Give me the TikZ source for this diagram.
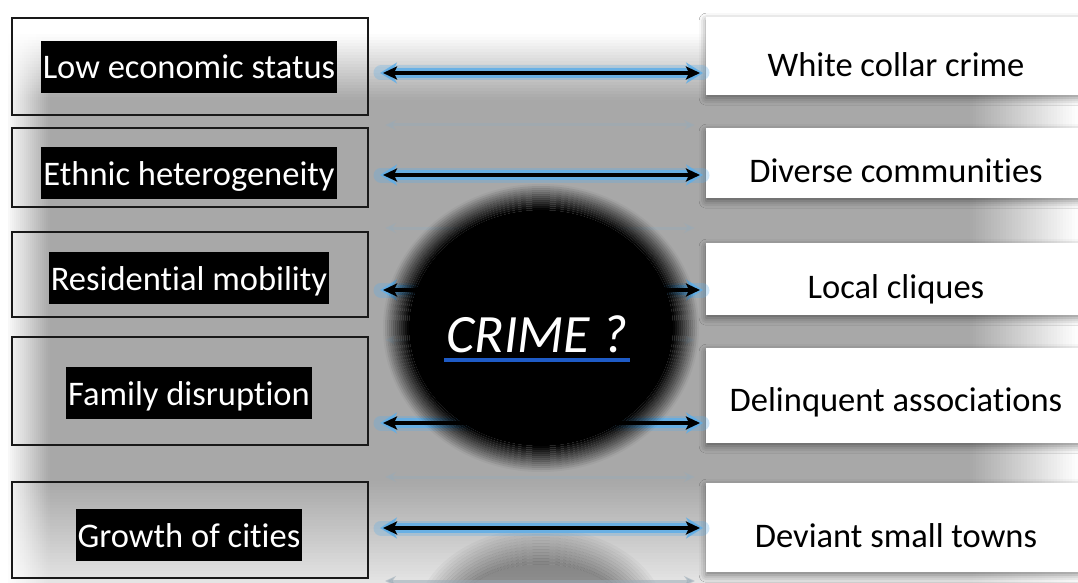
\documentclass[tikz,border=0pt]{standalone}
\usepackage{fontspec}
\setmainfont{Carlito}[Ligatures=NoCommon]
\usetikzlibrary{shadows.blur,arrows.meta,calc}

\definecolor{bggray}{HTML}{A8A8A8}
\definecolor{glow}{HTML}{5FAEE8}
\definecolor{ghost}{HTML}{9AAAB6}
\definecolor{uline}{HTML}{1E5BC6}

\newcommand\labelfont{\fontsize{34.5pt}{40pt}\selectfont}
\newcommand\crimefont{\fontsize{54pt}{60pt}\selectfont\itshape}

\begin{document}
\begin{tikzpicture}[x=1pt,y=-1pt,
  lbox/.style={draw=black!90, line width=2.4pt, minimum width=356pt, inner sep=0pt},
  lab/.style={fill=black, text=white, font=\labelfont, inner xsep=2pt, inner ysep=5pt,
    text height=33pt, text depth=9pt, anchor=base},
  rbox/.style={fill=white, draw=none, minimum width=380pt, inner sep=0pt, anchor=north west,
    blur shadow={shadow xshift=0pt, shadow yshift=-3pt, shadow blur radius=7pt, shadow opacity=45}},
  rtext/.style={font=\labelfont, text=black, inner sep=0pt, anchor=base},
  glowwide/.style={draw=glow, line width=15pt, opacity=0.3, line cap=round,
    shorten <=-2pt, shorten >=-2pt},
  glowcore/.style={draw=glow, line width=10pt, opacity=0.85, line cap=round,
    {Stealth[length=17pt,width=21pt]}-{Stealth[length=17pt,width=21pt]},
    shorten <=-3pt, shorten >=-3pt},
  link/.style={draw=black, line width=3.6pt,
    {Stealth[length=14pt,width=13pt,inset=3pt]}-{Stealth[length=14pt,width=13pt,inset=3pt]}},
  ghostlink/.style={draw=ghost, line width=3pt, opacity=0.55,
    {Stealth[length=11pt,width=10pt]}-{Stealth[length=11pt,width=10pt]}},
]
\useasboundingbox (0,0) rectangle (1078,583);

% backdrop with light vignettes, built from thin strips
\fill[bggray] (0,0) rectangle (1078,583);
\fill[white] (0,0) rectangle (1078,34);
\foreach \k in {0,...,21}{
  \pgfmathsetmacro\op{1-(\k+0.5)/22}
  \fill[white, fill opacity=\op] (0,34+3*\k) rectangle (1078,37+3*\k);
}
\fill[white] (0,0) rectangle (8,583);
\foreach \k in {0,...,20}{
  \pgfmathsetmacro\op{0.95*(1-(\k+0.5)/21)}
  \fill[white, fill opacity=\op] (8+2*\k,0) rectangle (10+2*\k,583);
}
\foreach \k in {0,...,33}{
  \pgfmathsetmacro\op{0.7*(\k+0.5)/34}
  \fill[white, fill opacity=\op] (0,481+3*\k) rectangle (1078,484+3*\k);
}
\foreach \k in {0,...,35}{
  \pgfmathsetmacro\op{(\k+0.5)/36}
  \fill[white, fill opacity=\op] (970+3*\k,0) rectangle (973+3*\k,583);
}

% soft reflection of the sphere
\coordinate (refl) at (541,622);
\foreach \k in {0,...,11}{
  \pgfmathsetmacro\op{0.38*(1-\k/12)}
  \fill[black, fill opacity=\op, even odd rule]
    (refl) ellipse [x radius={90+3*\k}, y radius={58+3*\k}]
    (refl) ellipse [x radius={93+3*\k}, y radius={61+3*\k}];
}
\fill[black, fill opacity=0.38] (refl) ellipse [x radius=90, y radius=58];

% faint mirrored arrows
\foreach \i/\y in {1/125,2/228,3/340,4/477,5/581}{
  \coordinate (g\i w) at (385,\y);
  \coordinate (g\i e) at (695,\y);
  \draw[ghostlink] (g\i w) -- (g\i e);
}

% left column: factors
\node[lbox, minimum height=97pt]  (B1) at (190,66.5) {};
\node[lbox, minimum height=79pt]  (B2) at (190,167.5) {};
\node[lbox, minimum height=85pt]  (B3) at (190,274.5) {};
\node[lbox, minimum height=108pt] (B4) at (190,391) {};
\node[lbox, minimum height=96pt]  (B5) at (190,530) {};

\node[lab] (L1) at (189,79)  {Low economic status};
\node[lab] (L2) at (189,185) {Ethnic heterogeneity};
\node[lab] (L3) at (189,290) {Residential mobility};
\node[lab] (L4) at (189,405) {Family disruption};
\node[lab] (L5) at (189,547) {Growth of cities};

% right column: outcomes
\node[rbox, minimum height=78pt] (R1) at (706,17)  {};
\node[rbox, minimum height=70pt] (R2) at (706,128) {};
\node[rbox, minimum height=72pt] (R3) at (706,243) {};
\node[rbox, minimum height=95pt] (R4) at (706,348) {};
\node[rbox, minimum height=89pt] (R5) at (706,483) {};

\node[rtext] (T1) at (896,77)  {White collar crime};
\node[rtext] (T2) at (896,182) {Diverse communities};
\node[rtext] (T3) at (896,298) {Local cliques};
\node[rtext] (T4) at (896,411) {Delinquent associations};
\node[rtext] (T5) at (896,547) {Deviant small towns};

% two-way links with a blue glow
\foreach \i/\y in {1/73,2/175,3/290,4/423,5/528}{
  \coordinate (a\i w) at (383,\y);
  \coordinate (a\i e) at (700,\y);
  \draw[glowwide] (a\i w) -- (a\i e);
  \draw[glowcore] (a\i w) -- (a\i e);
  \draw[link] (a\i w) -- (a\i e);
}

% the dark sphere in the middle, with a soft rim
\coordinate (ctr) at (541,328);
\foreach \k in {0,...,12}{
  \pgfmathsetmacro\op{1-(\k+0.5)/13}
  \fill[black, fill opacity=\op, even odd rule]
    (ctr) ellipse [x radius={132+2*\k}, y radius={118+2*\k}]
    (ctr) ellipse [x radius={134+2*\k}, y radius={120+2*\k}];
}
\fill[black] (ctr) ellipse [x radius=132, y radius=118];

\node[font=\crimefont, text=white, inner sep=0pt, anchor=base] (C) at (537,352) {CRIME ?};
\draw[uline, line width=4pt] ($(C.base west)+(-2,8)$) -- ($(C.base east)+(2,8)$);
\end{tikzpicture}
\end{document}
